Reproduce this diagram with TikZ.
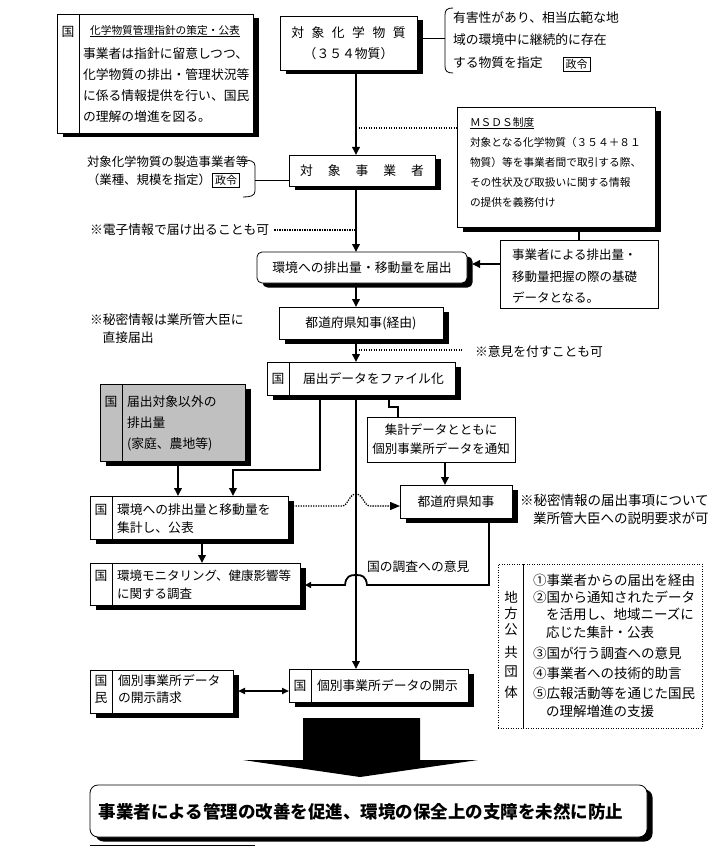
\documentclass[tikz,border=0pt]{standalone}
\usepackage{fontspec}
\setmainfont{Noto Sans CJK JP}
\usetikzlibrary{shadows,arrows.meta,calc}
\definecolor{grayfill}{RGB}{192,192,192}
\newcommand{\gp}[1]{\hspace{#1pt}}
\begin{document}
\begin{tikzpicture}[x=1pt,y=-1pt,
 every node/.style={inner sep=0pt, outer sep=0pt},
 f/.style={font=\fontsize{12.8}{21}\selectfont},
 fsm/.style={font=\fontsize{10.7}{20}\selectfont},
 ft/.style={font=\fontsize{13.5}{18}\selectfont},
 shbox/.style={draw, line width=0.8pt, fill=white, anchor=north west,
   drop shadow={opacity=1, fill=black, shadow xshift=5.5pt, shadow yshift=-4.5pt}},
 plainbox/.style={draw, line width=0.8pt, fill=white, anchor=north west},
 lt/.style={anchor=west, align=left},
 cn/.style={line width=1.8pt},
 ar/.style={cn, -{Triangle[length=8pt,width=7.5pt]}},
 dt/.style={line width=1.3pt, dash pattern=on 1.3pt off 1.2pt},
 dv/.style={line width=0.8pt},
 seirei/.style={draw, line width=0.7pt, inner xsep=2.5pt, inner ysep=2pt, font=\fontsize{11}{11}\selectfont}
]
\useasboundingbox (0,0) rectangle (722,850);

% A: guideline box
\node[shbox, minimum width=196pt, minimum height=119pt] (A) at (57,14) {};
\draw[dv] ($(A.north west)+(22,0)$) -- ($(A.south west)+(22,0)$);
\node[f] (Ak) at (68,32) {国};
\node[fsm] (Atitle) at (165,31) {\underline{化学物質管理指針の策定・公表}};
\node[f, lt] (Abody) at (83,85.5) {事業者は指針に留意しつつ、\\化学物質の排出・管理状況等\\に係る情報提供を行い、国民\\の理解の増進を図る。};

% B: target substances
\node[shbox, minimum width=137pt, minimum height=54pt] (B) at (280,16) {};
\node[f, align=center] (Bt) at (B.center) {対\gp{7.5}象\gp{7.5}化\gp{7.5}学\gp{7.5}物\gp{7.5}質\\（３５４物質）};

% C: brace text
\coordinate (Cbr) at (445,38);
\draw[line width=0.8pt] (B.east |- Cbr) -- (Cbr);
\draw[line width=0.8pt] (453,8) .. controls (447,8) and (445,10) .. (445,15) -- (445,66) .. controls (445,71) and (447,73) .. (453,73);
\node[f, lt, font=\fontsize{12.8}{22.5}\selectfont] (Ct) at (453,40) {有害性があり、相当広範な地\\域の環境中に継続的に存在\\する物質を指定};
\node[seirei] (Cs) at (576.5,64) {政令};

% D: MSDS
\node[shbox, minimum width=198pt, minimum height=120pt] (D) at (457,107) {};
\node[fsm, lt] (Dt) at (470,162) {\underline{ＭＳＤＳ制度}\\対象となる化学物質（３５４＋８１\\物質）等を事業者間で取引する際、\\その性状及び取扱いに関する情報\\の提供を義務付け};

% E
\node[plainbox, minimum width=158pt, minimum height=68pt] (E) at (500,240) {};
\node[f, lt, font=\fontsize{12.5}{21.5}\selectfont] (Et) at (512,276.5) {事業者による排出量・\\移動量把握の際の基礎\\データとなる。};

% F
\node[shbox, minimum width=146pt, minimum height=31pt] (F) at (289,155) {};
\node[f] (Ft) at (362,170.5) {対\gp{15}象\gp{15}事\gp{15}業\gp{15}者};

% G
\node[f, lt, font=\fontsize{12.4}{18.5}\selectfont] (Gt) at (87,171) {対象化学物質の製造事業者等\\（業種、規模を指定）};
\node[seirei] (Gs) at (226,180.5) {政令};
\draw[line width=0.8pt] (243,160) .. controls (250,160) and (255,161) .. (255,166) -- (255,191) .. controls (255,196) and (250,197) .. (243,197);
\coordinate (Gbr) at (255,180);
\draw[line width=0.8pt] (Gbr) -- (Gbr -| F.west);

% H
\coordinate (mx) at (356,0);
\node[f, anchor=west] (Ht) at (90,230) {※電子情報で届け出ることも可};
\draw[dt] ([xshift=5pt]Ht.east) -- (Ht.east -| mx);

% I
\node[shbox, rounded corners=5pt, minimum width=210pt, minimum height=31pt] (I) at (257,252) {};
\node[f] (It) at (I.center) {環境への排出量・移動量を届出};

% J
\node[shbox, minimum width=164pt, minimum height=32pt] (J) at (279,307) {};
\node[f] (Jt) at (J.center) {都道府県知事(経由)};

% K
\node[f, lt, font=\fontsize{12.8}{17.5}\selectfont] (Kt) at (90,328.5) {※秘密情報は業所管大臣に\\\hspace*{12.5pt}直接届出};

% L
\coordinate (Le) at (462,350);
\draw[dt] (Le -| mx) -- (Le);
\node[f, anchor=west] (Lt) at (475,352) {※意見を付すことも可};

% M
\node[shbox, minimum width=188pt, minimum height=33pt] (M) at (267,362) {};
\draw[dv] ($(M.north west)+(22,0)$) -- ($(M.south west)+(22,0)$);
\node[f] (Mk) at (278,378.5) {国};
\node[f, anchor=west] (Mt) at (303,378.5) {届出データをファイル化};

% N gray
\node[shbox, fill=grayfill, minimum width=145pt, minimum height=77pt] (N) at (100,384) {};
\draw[dv] ($(N.north west)+(22,0)$) -- ($(N.south west)+(22,0)$);
\node[f] (Nk) at (111,402) {国};
\node[f, lt] (Nt) at (127,423) {届出対象以外の\\排出量\\(家庭、農地等)};

% O
\node[plainbox, minimum width=148pt, minimum height=45pt] (O) at (367,417) {};
\node[f, align=center, font=\fontsize{12.5}{19}\selectfont] (Ot) at (O.center) {集計データとともに\\個別事業所データを通知};

% P
\node[shbox, minimum width=112pt, minimum height=33pt] (P) at (400,485) {};
\node[f] (Pt) at (P.center) {都道府県知事};

% Q
\node[ft, lt] (Qt) at (520,509) {※秘密情報の届出事項について\\\hspace*{13pt}業所管大臣への説明要求が可};

% R
\node[shbox, minimum width=198pt, minimum height=43pt] (R) at (90,496) {};
\draw[dv] ($(R.north west)+(22,0)$) -- ($(R.south west)+(22,0)$);
\node[f] (Rk) at (101,510) {国};
\node[f, lt, font=\fontsize{12.8}{18}\selectfont] (Rt) at (117,519) {環境への排出量と移動量を\\集計し、公表};

% S
\node[shbox, minimum width=210pt, minimum height=42pt] (S) at (90,563) {};
\draw[dv] ($(S.north west)+(22,0)$) -- ($(S.south west)+(22,0)$);
\node[f] (Sk) at (101,576) {国};
\node[f, lt, font=\fontsize{12.5}{18}\selectfont] (St) at (117,584.5) {環境モニタリング、健康影響等\\に関する調査};

% T dotted box
\node[draw, dash pattern=on 1pt off 1.5pt, line width=0.9pt, anchor=north west, minimum width=204pt, minimum height=164pt] (T) at (498,564) {};
\draw[dv] ($(T.north west)+(25,0)$) -- ($(T.south west)+(25,0)$);
\foreach \c/\yy [count=\i] in {地/597,方/613,公/630,共/652,団/672,体/692}
  \node[ft] (Tl\i) at (511,\yy) {\c};
\foreach \t/\xx/\yy [count=\i] in {①事業者からの届出を経由/533/580,②国から通知されたデータ/533/597,を活用し、地域ニーズに/546/614,応じた集計・公表/546/632,③国が行う調査への意見/533/653,④事業者への技術的助言/533/673,⑤広報活動等を通じた国民/533/693,の理解増進の支援/546/711}
  \node[ft, anchor=west] (Tr\i) at (\xx,\yy) {\t};

% U
\node[shbox, minimum width=143pt, minimum height=43pt] (U) at (90,670) {};
\draw[dv] ($(U.north west)+(22,0)$) -- ($(U.south west)+(22,0)$);
\node[f] (Uk1) at (101,681) {国};
\node[f] (Uk2) at (101,698) {民};
\node[f, lt, font=\fontsize{12.8}{17}\selectfont] (Ut) at (118,689.5) {個別事業所データ\\の開示請求};

% V
\node[shbox, minimum width=179pt, minimum height=33pt] (V) at (289,669) {};
\draw[dv] ($(V.north west)+(22,0)$) -- ($(V.south west)+(22,0)$);
\node[f] (Vk) at (300,685.5) {国};
\node[f, anchor=west] (Vt) at (317,685.5) {個別事業所データの開示};

% W big arrow
\fill (303,718) -- (420,718) -- (420,760) -- (478,760) -- (360,777) -- (243,760) -- (303,760) -- cycle;

% X final
\node[shbox, rounded corners=8pt, minimum width=557pt, minimum height=52pt] (X) at (90,785) {};
\node[font=\fontsize{17.5}{17.5}\selectfont\bfseries] (Xt) at (361,812) {事業者による管理の改善を促進、環境の保全上の支障を未然に防止};

% Y line
\coordinate (Y1) at (90,845);
\coordinate (Y2) at (255,845);
\draw[line width=0.8pt] (Y1) -- (Y2);

% connectors
\coordinate (Dd) at (457,128);
\draw[dt] (Dd -| mx) -- (Dd);
\draw[cn] (E.north |- D.south) -- (E.north);
\coordinate (Ea) at (500,264);
\coordinate (Ie) at ($(I.east)+(5,0)$);
\draw[ar] (Ea) -- (Ea -| Ie);

\coordinate (M1) at (320,470);
\coordinate (Rl) at (233,0);
\draw[ar] (M.south -| M1) -- (M1) -- (M1 -| Rl) -- (R.north -| Rl);
\coordinate (Nx) at (178,0);
\draw[ar] (N.south -| Nx) -- (R.north -| Nx);
\coordinate (M2) at (389,407);
\coordinate (Ox) at (398,0);
\draw[cn] (M.south -| M2) -- (M2) -- (M2 -| Ox) -- (O.north -| Ox);
\coordinate (Px) at (445,0);
\draw[ar] (O.south -| Px) -- (P.north -| Px);
\coordinate (Sx) at (202,0);
\draw[ar] (R.south -| Sx) -- (S.north -| Sx);

\coordinate (h1) at (342,506);
\coordinate (h2) at (370,506);
\draw[dt, -{Triangle[length=10pt,width=8pt]}] ($(R.east |- h1)+(5,0)$) -- (h1) .. controls (348,506) and (349,494) .. (356,494) .. controls (363,494) and (364,506) .. (h2) -- (h2 -| P.west);

\coordinate (Pq) at (489,585);
\coordinate (q1) at (367,585);
\coordinate (q2) at (345,585);
\draw[cn, -{Triangle[length=6pt,width=6pt]}] (P.south -| Pq) -- (Pq) -- (q1) .. controls (366,576) and (362,575) .. (356,575) .. controls (350,575) and (346,576) .. (q2) -- ($(S.east |- q2)+(5,0)$);
\node[f, anchor=west] (lbl) at (367,567) {国の調査への意見};

\coordinate (Uy) at (0,691);
\draw[cn, {Triangle[length=7pt,width=6pt]}-{Triangle[length=7pt,width=6pt]}] ($(U.east |- Uy)+(5,0)$) -- (V.west |- Uy);

\draw[ar] (B.south -| mx) -- (F.north -| mx);
\draw[ar] (F.south -| mx) -- (I.north -| mx);
\draw[ar] (I.south -| mx) -- (J.north -| mx);
\draw[ar] (J.south -| mx) -- (M.north -| mx);
\draw[ar] (M.south -| mx) -- (V.north -| mx);
\end{tikzpicture}
\end{document}
